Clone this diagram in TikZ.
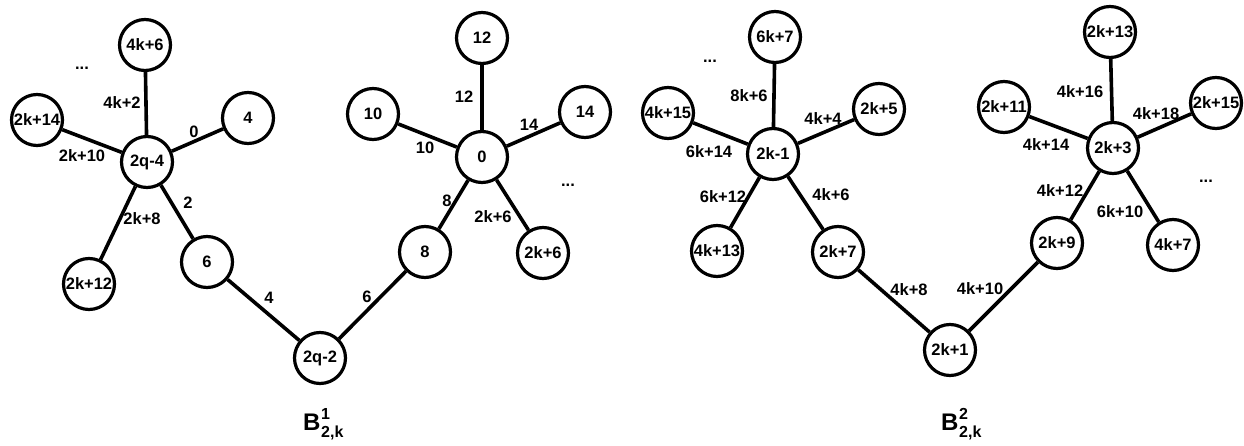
\documentclass[tikz,border=0pt]{standalone}
\usepackage{fontspec}
\setmainfont{Liberation Sans}
\begin{document}
\begin{tikzpicture}[x=1pt,y=-1pt,
  v/.style={circle, draw, line width=3.2pt, minimum size=51pt, inner sep=0pt, fill=white, font=\bfseries\fontsize{16.5}{18}\selectfont},
  lbl/.style={inner sep=0pt, font=\bfseries\fontsize{16.5}{18}\selectfont},
  edge/.style={line width=3.6pt},
  ttl/.style={inner sep=0pt, anchor=base west, font=\bfseries\fontsize{24}{26}\selectfont},
  ttls/.style={inner sep=0pt, anchor=base west, font=\bfseries\fontsize{16}{17}\selectfont}]
\useasboundingbox (0,0) rectangle (1244,446);
% ---------- left graph ----------
\node[v] (a0) at (147,162) {2q-4};
\node[v] (a1) at (145,45) {4k+6};
\node[v] (a2) at (248,118) {4};
\node[v] (a3) at (37,120) {2k+14};
\node[v] (a4) at (89,284) {2k+12};
\node[v] (a5) at (207,262) {6};
\node[v] (r1) at (320,358) {2q-2};
\node[v] (b5) at (425,252) {8};
\node[v] (b0) at (482,157) {0};
\node[v] (b1) at (482,38) {12};
\node[v] (b2) at (373,114) {10};
\node[v] (b3) at (585,112) {14};
\node[v] (b4) at (543,253) {2k+6};
\foreach \t in {a1,a2,a3,a4,a5} \draw[edge] (a0) -- (\t);
\draw[edge] (a5) -- (r1);
\draw[edge] (r1) -- (b5);
\foreach \t in {b1,b2,b3,b4,b5} \draw[edge] (b0) -- (\t);
\node[lbl] (la1) at (122,103) {4k+2};
\node[lbl] (la2) at (194,132) {0};
\node[lbl] (la3) at (82,156) {2k+10};
\node[lbl] (la4) at (142,219) {2k+8};
\node[lbl] (la5) at (188,203) {2};
\node[lbl] (lr1) at (269,298) {4};
\node[lbl] (lr2) at (367,297) {6};
\node[lbl] (lb1) at (464,97) {12};
\node[lbl] (lb2) at (425,148) {10};
\node[lbl] (lb3) at (529,125) {14};
\node[lbl] (lb4) at (493,217) {2k+6};
\node[lbl] (lb5) at (447,201) {8};
\node[lbl] (da) at (82,68) {...};
\node[lbl] (db) at (568,185) {...};
% ---------- right graph ----------
\node[v] (c0) at (773,154) {2k-1};
\node[v] (c1) at (775,37) {6k+7};
\node[v] (c2) at (668,113) {4k+15};
\node[v] (c3) at (879,109) {2k+5};
\node[v] (c4) at (717,251) {4k+13};
\node[v] (c5) at (838,252) {2k+7};
\node[v] (r2) at (950,350) {2k+1};
\node[v] (d5) at (1057,243) {2k+9};
\node[v] (d0) at (1113,148) {2k+3};
\node[v] (d1) at (1110,32) {2k+13};
\node[v] (d2) at (1004,107) {2k+11};
\node[v] (d3) at (1216,103) {2k+15};
\node[v] (d4) at (1173,245) {4k+7};
\foreach \t in {c1,c2,c3,c4,c5} \draw[edge] (c0) -- (\t);
\draw[edge] (c5) -- (r2);
\draw[edge] (r2) -- (d5);
\foreach \t in {d1,d2,d3,d4,d5} \draw[edge] (d0) -- (\t);
\node[lbl] (lc1) at (749,96) {8k+6};
\node[lbl] (lc3) at (823,119) {4k+4};
\node[lbl] (lc2) at (709,152) {6k+14};
\node[lbl] (lc4) at (723,197) {6k+12};
\node[lbl] (lc5) at (831,195) {4k+6};
\node[lbl] (lr3) at (909,290) {4k+8};
\node[lbl] (lr4) at (980,289) {4k+10};
\node[lbl] (ld1) at (1080,92) {4k+16};
\node[lbl] (ld3) at (1156,114) {4k+18};
\node[lbl] (ld2) at (1046,145) {4k+14};
\node[lbl] (ld5) at (1060,191) {4k+12};
\node[lbl] (ld4) at (1120,212) {6k+10};
\node[lbl] (dc) at (710,61) {...};
\node[lbl] (dd) at (1206,181) {...};
% ---------- titles ----------
\node[ttl] (t1) at (303,430) {B};
\node[ttls] (t1p) at (321,419) {1};
\node[ttls] (t1b) at (321,437) {2,k};
\node[ttl] (t2) at (941,430) {B};
\node[ttls] (t2p) at (959,419) {2};
\node[ttls] (t2b) at (959,437) {2,k};
\end{tikzpicture}
\end{document}
